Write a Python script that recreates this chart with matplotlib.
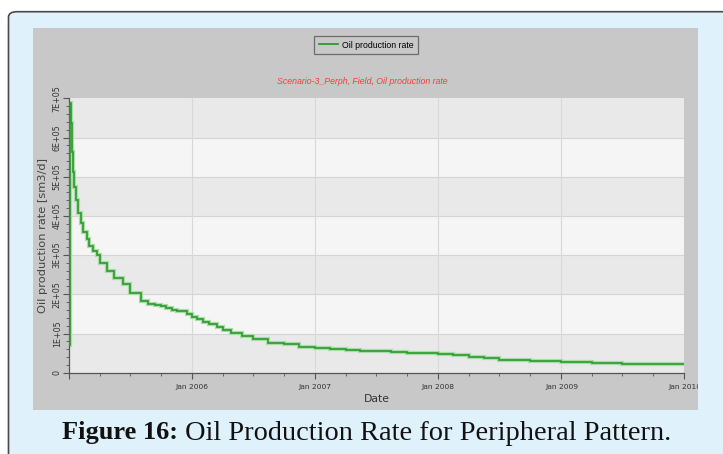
import numpy as np
import matplotlib
matplotlib.use("Agg")
import matplotlib.pyplot as plt
import matplotlib.dates as mdates
from matplotlib.patches import Rectangle, FancyBboxPatch
from matplotlib.ticker import MultipleLocator, FuncFormatter

# step dates and oil rate values (sm3/d)
dates = np.array([
    "2005-01-01", "2005-01-02", "2005-01-06", "2005-01-08", "2005-01-10",
    "2005-01-13", "2005-01-16", "2005-01-21", "2005-01-28", "2005-02-04",
    "2005-02-12", "2005-02-22", "2005-03-01", "2005-03-12", "2005-03-23",
    "2005-04-01", "2005-04-22", "2005-05-15", "2005-06-08", "2005-07-01",
    "2005-08-03", "2005-08-24", "2005-09-11", "2005-10-01", "2005-10-15",
    "2005-11-01", "2005-11-17", "2005-12-15", "2006-01-01", "2006-01-14",
    "2006-02-03", "2006-02-21", "2006-03-15", "2006-04-01", "2006-04-26",
    "2006-05-28", "2006-07-01", "2006-08-15", "2006-10-01", "2006-11-15",
    "2007-01-01", "2007-02-15", "2007-04-01", "2007-05-15", "2007-07-01",
    "2007-08-15", "2007-10-01", "2007-11-15", "2008-01-01", "2008-02-15",
    "2008-04-01", "2008-05-15", "2008-07-01", "2008-10-01", "2009-01-01",
    "2009-04-01", "2009-07-01", "2010-01-01",
], dtype="datetime64[D]")
oil_rate = np.array([
    70000, 688000, 638000, 604000, 562000,
    513000, 475000, 441000, 407000, 381000,
    359000, 340000, 323000, 310000, 300000,
    281000, 259000, 242000, 226000, 203000,
    182000, 176000, 173000, 170000, 166000,
    161000, 157000, 149000, 143000, 137000,
    130000, 123000, 116000, 109000, 102000,
    93000, 86000, 76000, 72000, 66000,
    62000, 60000, 58500, 56000, 54500,
    52500, 51000, 49500, 46500, 44000,
    39000, 36500, 33000, 29000, 26500,
    24000, 22000, 22000,
])

y_ticks = [0, 1e5, 2e5, 3e5, 4e5, 5e5, 6e5, 7e5]
series_name = "Oil production rate"
chart_title = "Scenario-3_Perph, Field, Oil production rate"
y_label = "Oil production rate [sm3/d]"
x_label = "Date"
caption_bold = "Figure 16:"
caption_rest = " Oil Production Rate for Peripheral Pattern."

W, H = 723, 454
fig = plt.figure(figsize=(W / 100, H / 100), dpi=100)
fig.patch.set_facecolor("white")

def fx(px):
    return px / W

def fy(py):
    return 1 - py / H

# outer light blue frame with dark rounded border
frame = FancyBboxPatch((fx(8.5), fy(500)), 1.2, fy(11.7) - fy(500),
                       boxstyle="round,pad=0,rounding_size=0.012",
                       transform=fig.transFigure, facecolor="#dff1fb",
                       edgecolor="#4a4a4a", linewidth=1.2, zorder=-10)
fig.patches.append(frame)

# gray chart panel
panel = Rectangle((fx(32.7), fy(410)), fx(698) - fx(32.7), fy(28) - fy(410),
                  transform=fig.transFigure, facecolor="#c8c8c8",
                  edgecolor="none", zorder=-5)
fig.patches.append(panel)

# covers the clipped "Jan 2010" label beyond the panel edge
cover = Rectangle((fx(698), fy(410)), fx(723) - fx(698), fy(28) - fy(410),
                  transform=fig.transFigure, facecolor="#dff1fb",
                  edgecolor="none", zorder=10)
fig.patches.append(cover)

ax = fig.add_axes([fx(69.3), fy(372.7), fx(684.4) - fx(69.3), fy(98.3) - fy(372.7)])
ax.set_facecolor("#e9e9e9")

# alternating horizontal bands
for i in range(len(y_ticks) - 1):
    col = "#e9e9e9" if i % 2 == 0 else "#f5f5f5"
    ax.axhspan(y_ticks[i], y_ticks[i + 1], color=col, zorder=0, lw=0)
for v in y_ticks[1:-1]:
    ax.axhline(v, color="#d4d4d4", lw=0.8, zorder=1)

x0 = np.datetime64("2005-01-01")
x1 = np.datetime64("2010-01-01")
for yr in range(2006, 2010):
    ax.axvline(np.datetime64(f"{yr}-01-01"), color="#d8d8d8", lw=0.8, zorder=1)

ax.step(dates, oil_rate, where="post", color="#a9dca9", lw=3.0, zorder=2,
        solid_joinstyle="miter")
ax.step(dates, oil_rate, where="post", color="#2c9a2c", lw=1.2, zorder=3,
        label=series_name, solid_joinstyle="miter")

ax.set_xlim(x0, x1)
ax.set_ylim(0, 7e5)

def date_fmt(v, p):
    d = mdates.num2date(v)
    if d.year == 2005:
        return ""
    return d.strftime("%b %Y")

ax.xaxis.set_major_locator(mdates.YearLocator())
ax.xaxis.set_major_formatter(FuncFormatter(date_fmt))
ax.xaxis.set_minor_locator(mdates.MonthLocator(bymonth=[4, 7, 10]))
ax.yaxis.set_major_locator(MultipleLocator(1e5))
ax.yaxis.set_minor_locator(MultipleLocator(2e4))
ax.yaxis.set_major_formatter(FuncFormatter(
    lambda v, p: "0" if v == 0 else f"{v / 1e5:.0f}E+05"))

for s in ["top", "right"]:
    ax.spines[s].set_visible(False)
for s in ["left", "bottom"]:
    ax.spines[s].set_color("#555555")
    ax.spines[s].set_linewidth(0.9)

ax.tick_params(axis="both", which="both", color="#555555", direction="out",
               labelcolor="#333333")
ax.tick_params(axis="x", which="major", length=4, labelsize=5.4, pad=4)
ax.tick_params(axis="x", which="minor", length=2.5)
ax.tick_params(axis="y", which="major", length=4, labelsize=5.8, pad=1.5)
ax.tick_params(axis="y", which="minor", length=2.5)
for lab in ax.get_yticklabels():
    lab.set_rotation(90)
    lab.set_va("center")

ax.set_xlabel(x_label, fontsize=7.8, color="#333333", labelpad=3)
ax.set_ylabel(y_label, fontsize=8.2, color="#444444", labelpad=3)

fig.text(fx(362), fy(81.5), chart_title, color="#ff3a3a", style="italic",
         fontsize=6.3, ha="center", va="center", family="Liberation Sans")

leg = fig.legend(loc="center", bbox_to_anchor=(fx(366), fy(45)),
                 prop={"family": "Liberation Sans", "size": 6.3},
                 frameon=True, fancybox=False, handlelength=2.2,
                 handletextpad=0.4, borderpad=0.5)
leg.get_frame().set_facecolor("#c8c8c8")
leg.get_frame().set_edgecolor("#555555")
leg.get_frame().set_linewidth(0.9)
for line in leg.get_lines():
    line.set_linewidth(1.3)

# caption: bold lead then regular text
renderer = fig.canvas.get_renderer()
t_bold = fig.text(fx(62), fy(433), caption_bold, family="Liberation Serif",
                  fontweight="bold", fontsize=19, ha="left", va="center",
                  color="#111111")
bb = t_bold.get_window_extent(renderer)
fig.text(bb.x1 / W, fy(433), caption_rest, family="Liberation Serif",
         fontsize=20.4, ha="left", va="center", color="#111111")

fig.savefig("out.png", dpi=100)
